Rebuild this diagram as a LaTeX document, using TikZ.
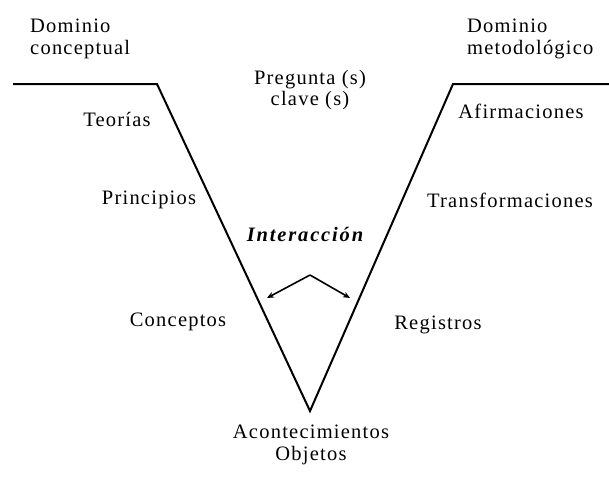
\documentclass[tikz,border=0pt]{standalone}
\usepackage{fontspec}
\setmainfont{Liberation Serif}[LetterSpace=6]
\newfontfamily\intfont{Liberation Serif}[LetterSpace=9]
\usetikzlibrary{arrows.meta}
\begin{document}
\begin{tikzpicture}[x=1pt,y=-1pt,
  lbl/.style={font=\fontsize{20.5}{21.5}\selectfont, inner sep=0pt, align=center},
  vline/.style={line width=2pt, black, line join=miter},
  iarrow/.style={line width=1.6pt, -{Stealth[length=7pt,width=6pt]}}]
\fill[white] (0,0) rectangle (609,487);
\useasboundingbox (0,0) rectangle (609,487);
% V shape
\coordinate (ls) at (13,84);
\coordinate (lc) at (157,84);
\coordinate (vx) at (310,411);
\coordinate (rc) at (453,84);
\coordinate (re) at (609,84);
\draw[vline] (ls) -- (lc) -- (vx) -- (rc) -- (re);
% interaction arrows
\coordinate (ap) at (310,275);
\coordinate (al) at (267,298);
\coordinate (ar) at (350,298);
\draw[iarrow] (ap) -- (al);
\draw[iarrow] (ap) -- (ar);
% labels
\node[lbl, align=left, anchor=west] (dc) at (30,39) {Dominio\\conceptual};
\node[lbl, align=left, anchor=west] (dm) at (467,39) {Dominio\\metodológico};
\node[lbl] (pq) at (310,90) {Pregunta (s)\\clave (s)};
\node[lbl] (te) at (117,119) {Teorías};
\node[lbl] (af) at (521,111) {Afirmaciones};
\node[lbl] (pr) at (149,200) {Principios};
\node[lbl] (tr) at (510,200) {Transformaciones};
\node[lbl, font=\fontsize{20.5}{21.5}\intfont\bfseries\itshape] (in) at (305,234) {Interacción};
\node[lbl] (co) at (178,322) {Conceptos};
\node[lbl] (re2) at (438,325) {Registros};
\node[lbl] (ac) at (311,445) {Acontecimientos\\Objetos};
\end{tikzpicture}
\end{document}
